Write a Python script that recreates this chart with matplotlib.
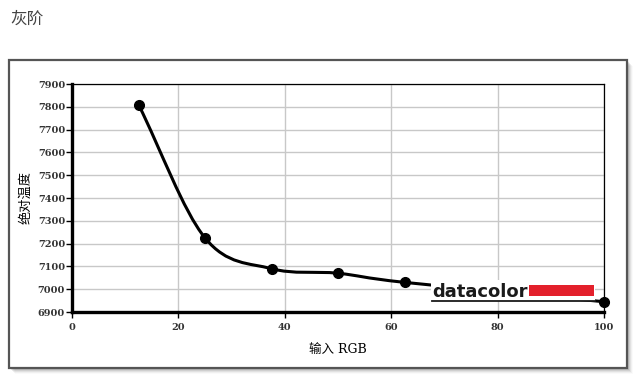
import numpy as np
import matplotlib.pyplot as plt
from matplotlib.path import Path
from matplotlib.patches import PathPatch, Rectangle

plt.rcParams['font.family'] = ['Noto Sans CJK SC', 'DejaVu Sans']

# data
rgb_in = [12.5, 25, 37.5, 50, 62.5, 100]
temp_k = [7810, 7225, 7090, 7070, 7030, 6945]
x_ticks = [0, 20, 40, 60, 80, 100]
y_ticks = list(range(6900, 8000, 100))

W, H = 640, 381
fig = plt.figure(figsize=(W / 100, H / 100), dpi=100)
fig.patch.set_facecolor('white')

def fx(px):
    return px / W

def fy(py):
    return 1 - py / H

# outer panel with a soft shadow
for i, a in enumerate([0.10, 0.08, 0.06, 0.04, 0.02]):
    off = 2 + i
    fig.patches.append(Rectangle((fx(9 + off), fy(368 + off)), fx(618), 308 / H,
                                 transform=fig.transFigure, facecolor='black',
                                 edgecolor='none', alpha=a, zorder=0))
fig.patches.append(Rectangle((fx(9), fy(368)), fx(618), 308 / H,
                             transform=fig.transFigure, facecolor='white',
                             edgecolor='#555555', linewidth=1.6, zorder=1))

fig.text(fx(10), fy(19), '灰阶', fontsize=12, color='#444444', va='center', ha='left')

ax = fig.add_axes([fx(72), fy(312), fx(604) - fx(72), (312 - 84) / H])
ax.set_zorder(2)
ax.set_xlim(0, 100)
ax.set_ylim(6900, 7900)
ax.set_xticks(x_ticks)
ax.set_yticks(y_ticks)
ax.grid(True, color='#c8c8c8', linewidth=1.0)
ax.set_axisbelow(True)
for s in ['left', 'bottom']:
    ax.spines[s].set_linewidth(2.4)
for s in ['top', 'right']:
    ax.spines[s].set_linewidth(0.9)
ax.tick_params(direction='out', length=4, width=1, colors='black',
               labelcolor='#333333', labelsize=7)
for lab in ax.get_xticklabels() + ax.get_yticklabels():
    lab.set_family('DejaVu Serif')
    lab.set_fontweight('bold')
ax.tick_params(axis='x', pad=4)
ax.tick_params(axis='y', pad=1)

ax.set_ylabel('绝对温度', fontsize=9.5, labelpad=4)
ax.set_xlabel('输入 RGB', fontsize=9, labelpad=8,
              family=['DejaVu Serif', 'Noto Sans CJK SC'])

# smooth curve (Catmull-Rom drawn as cubic Bezier segments)
xs = np.array(rgb_in, float)
ys = np.array(temp_k, float)
pts = np.column_stack([xs, ys])
ext = np.vstack([2 * pts[0] - pts[1], pts, 2 * pts[-1] - pts[-2]])
verts = [tuple(pts[0])]
codes = [Path.MOVETO]
for i in range(1, len(ext) - 2):
    p0, p1, p2, p3 = ext[i - 1], ext[i], ext[i + 1], ext[i + 2]
    c1 = p1 + (p2 - p0) / 6
    c2 = p2 - (p3 - p1) / 6
    verts += [tuple(c1), tuple(c2), tuple(p2)]
    codes += [Path.CURVE4] * 3
ax.add_patch(PathPatch(Path(verts, codes), fill=False, edgecolor='black',
                       linewidth=2.2, zorder=3, clip_on=False))
ax.plot(xs, ys, 'o', color='black', markersize=7, zorder=5, clip_on=False)

# datacolor logo overlay
ax.add_patch(Rectangle((67.5, 6947), 30.8, 93, facecolor='white',
                       edgecolor='none', zorder=4))
ax.text(67.7, 6964, 'datacolor', fontsize=13, fontweight='bold',
        family='DejaVu Sans', color='#1a1a1a', ha='left', va='baseline', zorder=4.5)
ax.add_patch(Rectangle((85.9, 6968), 12.2, 52, facecolor='#e3202b',
                       edgecolor='none', zorder=4.5))
ax.plot([67.7, 98.3], [6950, 6950], color='#1a1a1a', linewidth=1.3, zorder=4.5)

fig.savefig('out.png', dpi=100)
